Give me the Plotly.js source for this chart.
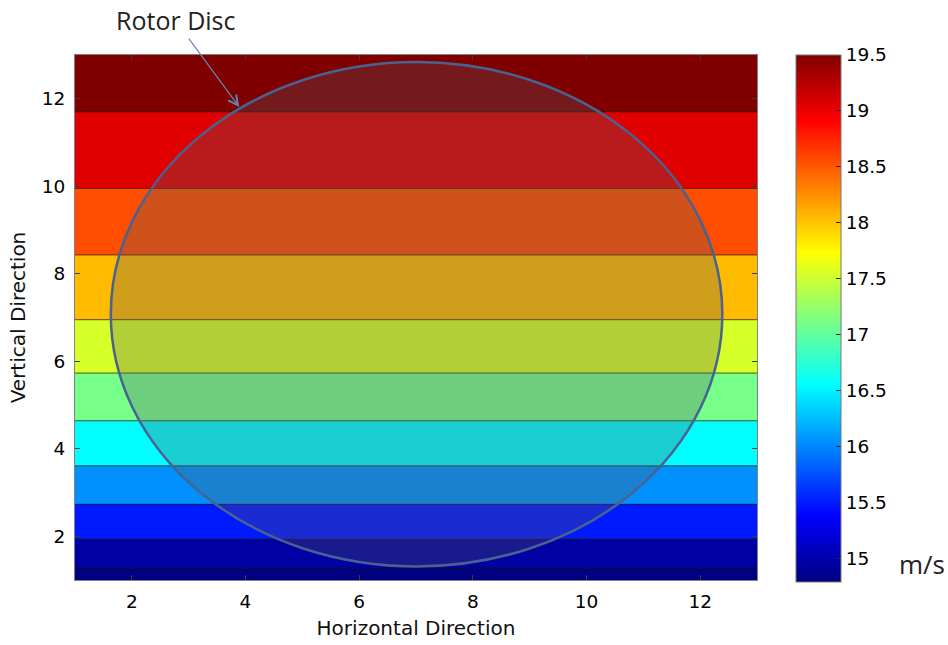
<!DOCTYPE html>
<html>
<head>
<meta charset="utf-8">
<script src="https://cdn.plot.ly/plotly-3.0.1.min.js"></script>
<style>
  html, body { margin: 0; padding: 0; background: #fff; }
  #chart { width: 948px; height: 645px; }
</style>
</head>
<body>
<div id="chart"></div>
<script>
// Horizontal extent of the wind field (grid edges)
const xEdges = [1, 13];
// Heights where the wind speed steps from one contour band to the next
const bandEdges = [1, 1.27, 1.93, 2.73, 3.61, 4.64, 5.73, 6.95, 8.43, 9.95, 11.70, 13];
// Wind speed in each band, bottom to top (m/s)
const bandSpeeds = [14.8, 14.95, 15.5, 16.05, 16.55, 17.1, 17.55, 18.05, 18.55, 19.05, 19.5];
// Colour bar limits and labels
const speedMin = 14.79;
const speedMax = 19.5;
const speedTicks = [15, 15.5, 16, 16.5, 17, 17.5, 18, 18.5, 19, 19.5];
const speedTickText = ['15', '15.5', '16', '16.5', '17', '17.5', '18', '18.5', '19', '19.5'];
// Axis ticks
const xTicks = [2, 4, 6, 8, 10, 12];
const yTicks = [2, 4, 6, 8, 10, 12];
// Rotor disc bounding box (x0, x1, y0, y1)
const rotorX = [1.63, 12.39];
const rotorY = [1.31, 12.84];
// Point on the rotor edge that the label points to
const rotorLabelPoint = [3.89, 11.81];

// MATLAB-style jet colormap
const jet = [
  [0, 'rgb(0,0,128)'],
  [0.125, 'rgb(0,0,255)'],
  [0.375, 'rgb(0,255,255)'],
  [0.625, 'rgb(255,255,0)'],
  [0.875, 'rgb(255,0,0)'],
  [1, 'rgb(128,0,0)']
];

const tickFont = { family: 'DejaVu Sans, sans-serif', size: 18.5, color: '#000' };
const labelFont = { family: 'DejaVu Sans, sans-serif', size: 20, color: '#111' };
const noteFont = { family: 'Open Sans, sans-serif', size: 25, color: '#222' };

const field = {
  type: 'heatmap',
  x: xEdges,
  y: bandEdges,
  z: bandSpeeds.map(v => [v]),
  zsmooth: false,
  colorscale: jet,
  zmin: speedMin,
  zmax: speedMax,
  hoverinfo: 'skip',
  colorbar: {
    x: 1.057,
    xanchor: 'left',
    xpad: 0,
    y: 1.0,
    yanchor: 'top',
    ypad: 0,
    len: 527,
    lenmode: 'pixels',
    thickness: 45,
    thicknessmode: 'pixels',
    outlinewidth: 1,
    outlinecolor: 'rgb(120,120,120)',
    ticks: 'inside',
    ticklen: 5,
    tickcolor: 'rgb(40,40,40)',
    tickmode: 'array',
    tickvals: speedTicks,
    ticktext: speedTickText,
    tickfont: tickFont,
    ticklabelpad: 6
  }
};

// Thin dark lines between neighbouring bands
const bandLines = bandEdges.slice(1, -1).map(yv => ({
  type: 'line',
  xref: 'x', yref: 'y',
  x0: xEdges[0], x1: xEdges[1], y0: yv, y1: yv,
  line: { color: 'rgba(30,20,10,0.7)', width: 1 },
  layer: 'above'
}));

// Rotor disc: translucent grey fill with a steel-blue rim
const rotorDisc = {
  type: 'circle',
  xref: 'x', yref: 'y',
  x0: rotorX[0], x1: rotorX[1], y0: rotorY[0], y1: rotorY[1],
  fillcolor: 'rgba(88,90,96,0.29)',
  line: { color: 'rgb(72,98,145)', width: 2.5 },
  layer: 'above'
};

const axisCommon = {
  showgrid: false,
  zeroline: false,
  showline: true,
  linecolor: 'rgb(130,130,130)',
  linewidth: 1,
  mirror: 'ticks',
  ticks: 'inside',
  ticklen: 5,
  tickcolor: 'rgb(60,60,60)',
  tickfont: tickFont,
  tickmode: 'array'
};

const layout = {
  width: 948,
  height: 645,
  margin: { l: 75, r: 191, t: 55, b: 65 },
  paper_bgcolor: '#fff',
  plot_bgcolor: '#fff',
  showlegend: false,
  xaxis: Object.assign({}, axisCommon, {
    range: [xEdges[0], xEdges[1]],
    tickvals: xTicks,
    ticklabelstandoff: 5,
    title: { text: 'Horizontal Direction', font: labelFont, standoff: 9 }
  }),
  yaxis: Object.assign({}, axisCommon, {
    range: [bandEdges[0], bandEdges[bandEdges.length - 1]],
    tickvals: yTicks,
    ticklabelstandoff: 5,
    title: { text: 'Vertical Direction', font: labelFont, standoff: 10 }
  }),
  shapes: bandLines.concat([rotorDisc]),
  annotations: [
    {
      xref: 'x', yref: 'y',
      x: rotorLabelPoint[0], y: rotorLabelPoint[1],
      text: 'Rotor Disc',
      font: noteFont,
      showarrow: true,
      arrowhead: 5,
      arrowsize: 1.6,
      arrowwidth: 1.2,
      arrowcolor: 'rgb(95,135,190)',
      ax: -64, ay: -87,
      standoff: 0
    },
    {
      xref: 'paper', yref: 'paper',
      x: 1.205, y: 0.031,
      xanchor: 'left', yanchor: 'middle',
      text: 'm/s',
      font: { family: 'Open Sans, sans-serif', size: 26, color: '#222' },
      showarrow: false
    }
  ]
};

Plotly.newPlot('chart', [field], layout, { displayModeBar: false, staticPlot: true });
</script>
</body>
</html>
